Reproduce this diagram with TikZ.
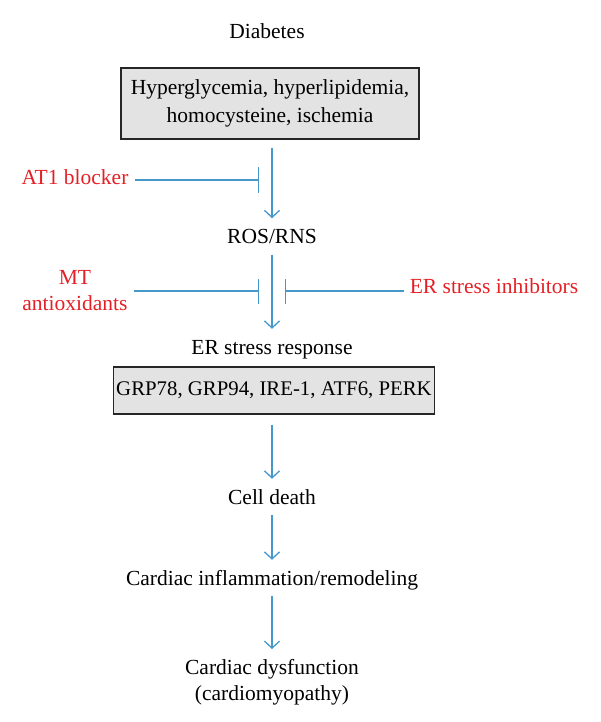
\documentclass[tikz,border=0pt]{standalone}
\usepackage{fontspec}
\setmainfont{Liberation Serif}
\usetikzlibrary{arrows.meta,positioning}
\definecolor{flowblue}{RGB}{70,152,203}
\definecolor{drugred}{RGB}{228,32,38}

\begin{document}
\begin{tikzpicture}[x=1pt,y=-1pt,>={Straight Barb[length=7pt,width=15pt]},
  every node/.style={font=\fontsize{21.5}{26}\selectfont,inner sep=4pt},
  lbl/.style={text height=15pt,text depth=5pt},
  box/.style={draw=black!85,line width=1.1pt,fill=black!11,align=center,font=\fontsize{21.5}{28}\selectfont},
  drug/.style={text=drugred,align=center},
  flow/.style={->,draw=flowblue,line width=1.3pt,shorten >=6pt,shorten <=2pt},
  inhib/.style={-{Bar[width=25pt]},draw=flowblue,line width=1.3pt,shorten <=2pt}]
\useasboundingbox (0,0) rectangle (600,722);

\node[lbl] (dia) at (267,34) {Diabetes};
\node[box,minimum width=298,minimum height=71] (hyp) at (270,103.5) {Hyperglycemia, hyperlipidemia,\\homocysteine, ischemia};
\node[lbl] (ros) at (272,238.5) {ROS/RNS};
\node[lbl] (ers) at (272,349) {ER stress response};
\node[box,minimum width=321,minimum height=47,inner xsep=1pt,font=\fontsize{20.8}{26}\selectfont] (grp) at (274,390.5) {GRP78, GRP94, IRE-1, ATF6, PERK};
\node[lbl] (cell) at (272,499) {Cell death};
\node[lbl] (infl) at (272,580) {Cardiac inflammation/remodeling};
\node[align=center,anchor=north] (dys) at (272,655) {Cardiac dysfunction\\(cardiomyopathy)};

% inhibitors
\node[drug,lbl] (at1) at (75,180) {AT1 blocker};
\node[drug] (mt) at (75,291) {MT\\antioxidants};
\node[drug,lbl] (eri) at (494,288) {ER stress inhibitors};
\coordinate (b1) at (259,180);
\coordinate (b2) at (259,291);
\coordinate (b3) at (285,291);

\draw[flow,shorten <=8pt] (hyp.south -| ros) -- (ros);
\draw[flow] (ros) -- (ers);
\draw[flow,shorten <=10pt] (grp.south -| cell) -- (cell);
\draw[flow] (cell) -- (infl);
\draw[flow] (infl) -- (dys);

\draw[inhib] (at1) -- (b1);
\draw[inhib] (mt.east |- b2) -- (b2);
\draw[inhib] (eri.west |- b3) -- (b3);
\end{tikzpicture}
\end{document}
